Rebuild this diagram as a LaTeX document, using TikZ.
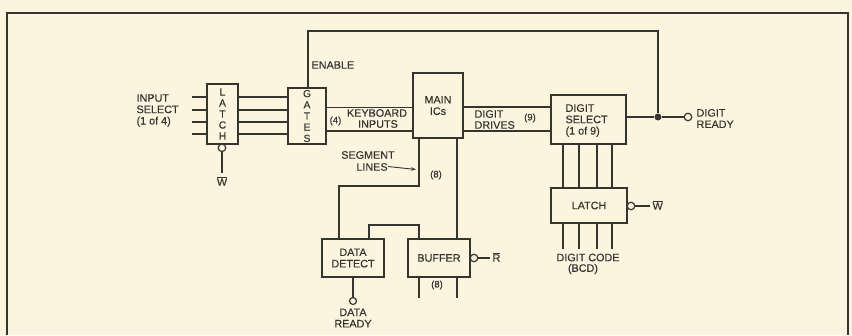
\documentclass[tikz,border=0pt]{standalone}
\usepackage{fontspec}
\setmainfont{Liberation Sans}[FakeBold=0.35]
\usetikzlibrary{arrows.meta}
\definecolor{bg}{HTML}{FBF5E0}
\definecolor{ink}{HTML}{35342F}
\begin{document}
\begin{tikzpicture}[x=1pt,y=-1pt,line width=1.15pt,color=ink,
  blk/.style={draw,inner sep=0,align=center,font=\fontsize{10.8}{11.4}\selectfont},
  lbl/.style={inner sep=0,font=\fontsize{10.8}{11.4}\selectfont},
  sml/.style={inner sep=0,font=\fontsize{9.5}{10}\selectfont},
  bub/.style={circle,draw,fill=bg,inner sep=0,minimum size=7.5pt,line width=1.2pt},
  dot/.style={circle,fill=ink,inner sep=0,minimum size=7pt}]
\fill[bg] (0,0) rectangle (852,335);
\useasboundingbox (0,0) rectangle (852,335);
% frame
\draw[line width=2.2pt] (7,335) -- (7,13) -- (848,13) -- (848,335);

% blocks
\node[blk,minimum width=31,minimum height=60,font=\fontsize{10.3}{11}\selectfont] (latchA) at (222.5,114) {L\\A\\T\\C\\H};
\node[blk,minimum width=38,minimum height=56,font=\fontsize{10.3}{11.2}\selectfont] (gates) at (307,116) {G\\A\\T\\E\\S};
\node[blk,minimum width=50,minimum height=65] (main) at (438,105.5) {MAIN\\ICs};
\node[blk,minimum width=75,minimum height=49] (dsel) at (588.5,119.5) {};
\node[lbl,anchor=west,align=left] at (565,120.5) {DIGIT\\SELECT\\(1 of 9)};
\node[blk,minimum width=76,minimum height=35] (latchB) at (589,205.5) {LATCH};
\node[blk,minimum width=62,minimum height=38] (detect) at (353,258) {DATA\\DETECT};
\node[blk,minimum width=62,minimum height=38] (buffer) at (439,258) {BUFFER};

% input select
\node[lbl,anchor=west,align=left] (insel) at (136,110.5) {INPUT\\SELECT\\(1 of 4)};
\foreach \y/\n in {97/a,110/b,122/c,134/d}{
  \coordinate (in\n) at (192,\y);
  \draw (in\n) -- (latchA.west |- in\n);
  \draw (latchA.east |- in\n) -- (gates.west |- in\n);
}
% latch W
\node[bub] (bA) at (222,147.8) {};
\coordinate (wA) at (222,173);
\draw (bA.south) -- (wA);
\node[lbl] at (222,181) {$\overline{\hbox{W}}$};

% enable loop
\node[dot] (jn) at (658,117) {};
\draw (gates.north -| 308,0) -- (308,31) -- (658,31) -- (jn);
\node[lbl,anchor=west] at (311,65) {ENABLE};

% keyboard inputs
\foreach \y in {107.5,131}{
  \draw (gates.east |- 0,\y) -- (main.west |- 0,\y);
}
\node[sml] at (335.5,121) {(4)};
\node[lbl] at (377,113) {KEYBOARD};
\node[lbl] at (378,124) {INPUTS};

% digit drives
\foreach \y in {107,131}{
  \draw (main.east |- 0,\y) -- (dsel.west |- 0,\y);
}
\node[lbl,anchor=west] at (474,114) {DIGIT};
\node[lbl,anchor=west] at (474,125) {DRIVES};
\node[sml] at (530,118) {(9)};

% digit ready
\node[bub] (bR) at (688,117) {};
\draw (dsel.east |- jn) -- (jn) -- (bR.west);
\node[lbl,anchor=west,align=left] at (696,118.5) {DIGIT\\READY};

% digit select to latch and digit code
\foreach \x/\n in {563/a,579/b,597/c,612/d}{
  \draw (dsel.south -| \x,0) -- (latchB.north -| \x,0);
  \coordinate (dc\n) at (\x,249);
  \draw (latchB.south -| dc\n) -- (dc\n);
}
\node[lbl] at (588,257.5) {DIGIT CODE};
\node[lbl] at (583,269) {(BCD)};
\node[bub] (bW) at (631,206) {};
\coordinate (wB) at (650,206);
\draw (bW.east) -- (wB);
\node[lbl,anchor=west] at (652,205) {$\overline{\hbox{W}}$};

% segment lines
\draw (main.south -| 419,0) -- (419,186) -- (339,186) -- (detect.north -| 339,0);
\node[sml] at (436,175) {(8)};
\node[lbl] at (368,155) {SEGMENT};
\node[lbl] at (372,167) {LINES};
\coordinate (segtip) at (416,169.5);
\draw[line width=0.9pt,-{Stealth[length=5pt,width=3.5pt]}] (388,166.5) -- (segtip);

% main to buffer
\draw (main.south -| 457,0) -- (buffer.north -| 457,0);
% detect to buffer link
\draw (detect.north -| 369,0) -- (369,225) -- (419,225) -- (buffer.north -| 419,0);

% buffer R
\node[bub] (bB) at (474,258) {};
\coordinate (rB) at (490,258);
\draw (bB.east) -- (rB);
\node[lbl,anchor=west] at (492,257) {$\overline{\hbox{R}}$};
% buffer bottom
\foreach \x/\n in {419/a,457/b}{
  \coordinate (bo\n) at (\x,298);
  \draw (buffer.south -| bo\n) -- (bo\n);
}
\node[sml] at (437,285) {(8)};

% data ready
\node[bub,minimum size=7pt] (bD) at (353,301) {};
\draw (detect.south) -- (bD.north);
\node[lbl,align=center] at (353,318) {DATA\\READY};
\end{tikzpicture}
\end{document}
